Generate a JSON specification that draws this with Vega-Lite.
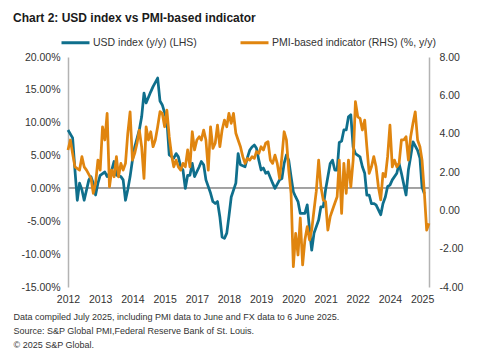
{
  "$schema": "https://vega.github.io/schema/vega-lite/v6.json",
  "width": 361,
  "height": 230,
  "autosize": {"type": "none"},
  "padding": {"left": 68, "top": 57, "right": 67, "bottom": 65},
  "background": "white",
  "config": {"view": {"stroke": null}, "font": "Liberation Sans", "axis": {"labelOverlap": false, "labelFlush": false}},
  "title": {"text": "Chart 2: USD index vs PMI-based indicator", "anchor": "start", "frame": "group", "dx": -55, "dy": 2, "fontSize": 12, "font": "Liberation Sans", "fontWeight": "bold", "color": "#1a1a1a"},
  "data": {"values": [
    {"d":"2012-05","usd":8.9,"pmi":3.15},{"d":"2012-06","pmi":3.67},{"d":"2012-07","usd":7.7,"pmi":2.97},{"d":"2012-08","usd":2.8,"pmi":2.27},
    {"d":"2012-09","usd":-1.8},{"d":"2012-10","usd":0.8,"pmi":2.1},{"d":"2012-11","usd":-0.2,"pmi":2.8},{"d":"2012-12","usd":-1.8,"pmi":2.27},
    {"d":"2013-01","pmi":2.1},{"d":"2013-02","usd":1.3},{"d":"2013-03","usd":1.8,"pmi":1.67},{"d":"2013-04","usd":0.8,"pmi":0.89},
    {"d":"2013-05","usd":-1.0,"pmi":1.41},{"d":"2013-06","usd":0.8,"pmi":2.62},{"d":"2013-07","usd":2.0,"pmi":2.1},{"d":"2013-08","pmi":4.36},
    {"d":"2013-09","usd":2.5,"pmi":3.67},{"d":"2013-10","usd":1.8,"pmi":5.06},{"d":"2013-11","pmi":1.23},{"d":"2013-12","usd":2.8,"pmi":2.1},
    {"d":"2014-01","usd":4.1,"pmi":1.75},{"d":"2014-02","usd":2.0,"pmi":2.8},{"d":"2014-03","pmi":1.75},{"d":"2014-04","usd":1.8,"pmi":2.45},
    {"d":"2014-05","usd":1.3,"pmi":2.1},{"d":"2014-06","usd":-1.8,"pmi":2.45},{"d":"2014-07","usd":-0.2,"pmi":4.0},{"d":"2014-08","usd":1.8,"pmi":5.14},
    {"d":"2014-09","usd":4.3,"pmi":2.62},{"d":"2014-10","usd":6.3,"pmi":2.97},{"d":"2014-11","pmi":3.5},{"d":"2014-12","usd":8.9,"pmi":4.19},
    {"d":"2015-01","usd":10.9,"pmi":3.32},{"d":"2015-02","usd":14.5,"pmi":1.67},{"d":"2015-03","usd":13.0,"pmi":4.36},{"d":"2015-04","pmi":3.67},
    {"d":"2015-05","usd":14.7,"pmi":4.1},{"d":"2015-06","usd":15.5,"pmi":3.32},{"d":"2015-07","pmi":3.67},{"d":"2015-08","usd":16.8,"pmi":4.36},
    {"d":"2015-09","usd":13.3,"pmi":5.15},{"d":"2015-10","usd":12.7,"pmi":5.06},{"d":"2015-11","pmi":4.36},{"d":"2015-12","usd":10.4,"pmi":5.23},
    {"d":"2016-01","usd":5.1,"pmi":3.84},{"d":"2016-02","pmi":2.88},{"d":"2016-03","usd":4.6,"pmi":2.27},{"d":"2016-04","usd":5.3,"pmi":2.62},
    {"d":"2016-05","usd":4.8,"pmi":2.27},{"d":"2016-06","usd":3.3,"pmi":2.1},{"d":"2016-07","usd":2.8,"pmi":2.45},{"d":"2016-08","usd":0.0,"pmi":2.27},
    {"d":"2016-09","usd":2.0,"pmi":3.15},{"d":"2016-10","usd":2.0,"pmi":2.27},{"d":"2016-11","usd":3.8,"pmi":4.1},{"d":"2016-12","usd":1.8,"pmi":3.15},
    {"d":"2017-01","pmi":3.67},{"d":"2017-02","usd":3.3,"pmi":3.84},{"d":"2017-03","usd":4.1,"pmi":3.67},{"d":"2017-04","usd":3.6,"pmi":4.19},
    {"d":"2017-05","usd":1.3,"pmi":3.67},{"d":"2017-06","pmi":2.1},{"d":"2017-07","usd":-0.7,"pmi":4.36},{"d":"2017-08","usd":-2.0,"pmi":3.23},
    {"d":"2017-09","usd":-2.3,"pmi":3.5},{"d":"2017-10","usd":-2.0,"pmi":4.45},{"d":"2017-11","usd":-4.3,"pmi":3.32},{"d":"2017-12","usd":-7.4,"pmi":4.19},
    {"d":"2018-01","usd":-7.6,"pmi":4.71},{"d":"2018-02","usd":-6.8,"pmi":4.36},{"d":"2018-03","usd":-4.3,"pmi":5.06},{"d":"2018-04","usd":-1.3,"pmi":4.54},
    {"d":"2018-05","pmi":5.06},{"d":"2018-06","usd":0.8,"pmi":4.02},{"d":"2018-07","usd":5.3,"pmi":3.67},{"d":"2018-08","usd":3.6,"pmi":3.32},
    {"d":"2018-09","pmi":2.8},{"d":"2018-10","usd":3.3,"pmi":2.45},{"d":"2018-11","usd":4.7,"pmi":2.71},{"d":"2018-12","usd":5.8,"pmi":2.62},
    {"d":"2019-01","usd":6.3,"pmi":2.8},{"d":"2019-02","usd":6.6,"pmi":2.71},{"d":"2019-03","usd":6.1,"pmi":3.06},{"d":"2019-04","usd":4.3,"pmi":2.97},
    {"d":"2019-05","usd":2.8,"pmi":3.32},{"d":"2019-06","usd":3.1,"pmi":3.15},{"d":"2019-07","usd":2.3,"pmi":3.5},{"d":"2019-08","usd":2.5,"pmi":3.58},
    {"d":"2019-09","pmi":2.62},{"d":"2019-10","usd":0.8,"pmi":2.45},{"d":"2019-11","usd":0.0,"pmi":2.88},{"d":"2019-12","pmi":2.45},
    {"d":"2020-01","usd":1.3,"pmi":1.67},{"d":"2020-02","usd":1.5,"pmi":2.8},{"d":"2020-03","usd":3.8,"pmi":4.1},{"d":"2020-04","usd":5.1,"pmi":3.67},
    {"d":"2020-05","usd":4.3,"pmi":2.1},{"d":"2020-06","usd":1.8,"pmi":0.89},{"d":"2020-07","usd":-0.5,"pmi":-2.94},{"d":"2020-08","usd":-1.3,"pmi":-1.2},
    {"d":"2020-09","usd":-2.0,"pmi":-2.33},{"d":"2020-10","usd":-3.8,"pmi":-0.4},{"d":"2020-11","pmi":-2.85},{"d":"2020-12","usd":-3.8,"pmi":-1.55},
    {"d":"2021-01","usd":-2.5,"pmi":-0.85},{"d":"2021-02","usd":-6.3,"pmi":-1.55},{"d":"2021-03","usd":-9.4,"pmi":-1.03},{"d":"2021-04","usd":-6.8,"pmi":0.02},
    {"d":"2021-05","pmi":1.0},{"d":"2021-06","usd":-4.8,"pmi":2.62},{"d":"2021-07","usd":-2.8,"pmi":1.23},{"d":"2021-08","usd":-2.8,"pmi":0.54},
    {"d":"2021-09","usd":-0.2,"pmi":0.45},{"d":"2021-10","pmi":-1.03},{"d":"2021-11","usd":3.8,"pmi":-0.33},{"d":"2021-12","usd":4.3,"pmi":0.02},
    {"d":"2022-01","usd":2.8,"pmi":0.37},{"d":"2022-02","usd":2.8,"pmi":0.71},{"d":"2022-03","usd":7.0,"pmi":2.62},{"d":"2022-04","usd":7.2,"pmi":-0.16},
    {"d":"2022-05","usd":8.9,"pmi":2.45},{"d":"2022-06","usd":8.9,"pmi":0.89},{"d":"2022-07","usd":10.9,"pmi":2.62},{"d":"2022-08","usd":11.2,"pmi":1.23},
    {"d":"2022-09","usd":6.3,"pmi":2.62},{"d":"2022-10","usd":5.3,"pmi":5.67},{"d":"2022-11","pmi":4.88},{"d":"2022-12","usd":4.8,"pmi":4.8},
    {"d":"2023-01","usd":3.3,"pmi":4.19},{"d":"2023-02","usd":2.3,"pmi":4.71},{"d":"2023-03","usd":-1.0,"pmi":3.32},{"d":"2023-04","usd":-1.0,"pmi":1.93},
    {"d":"2023-05","usd":-2.3,"pmi":2.27},{"d":"2023-06","usd":-2.3,"pmi":2.8},{"d":"2023-07","usd":-2.5,"pmi":2.27},{"d":"2023-08","pmi":1.23},
    {"d":"2023-09","usd":-4.0,"pmi":0.54},{"d":"2023-10","usd":-2.3,"pmi":1.93},{"d":"2023-11","usd":-1.3,"pmi":1.75},{"d":"2023-12","usd":0.3,"pmi":2.8},
    {"d":"2024-01","usd":0.5,"pmi":4.45},{"d":"2024-02","usd":1.3,"pmi":2.27},{"d":"2024-03","pmi":2.62},{"d":"2024-04","usd":2.3,"pmi":2.27},
    {"d":"2024-05","usd":3.8,"pmi":2.45},{"d":"2024-06","usd":2.3,"pmi":3.67},{"d":"2024-07","pmi":3.67},{"d":"2024-08","usd":-1.0,"pmi":3.84},
    {"d":"2024-09","usd":2.8,"pmi":2.62},{"d":"2024-10","usd":4.8,"pmi":3.84},{"d":"2024-11","usd":7.1,"pmi":4.54},{"d":"2024-12","pmi":5.14},
    {"d":"2025-01","usd":5.8,"pmi":3.67},{"d":"2025-02","usd":4.6,"pmi":3.32},{"d":"2025-03","usd":0.2,"pmi":2.62},{"d":"2025-04","usd":-0.8,"pmi":0.89},
    {"d":"2025-05","pmi":-1.03},{"d":"2025-06","pmi":-0.68}
  ]},
  "encoding": {
    "x": {
      "field": "d", "type": "temporal",
      "scale": {"type": "utc", "domain": [{"year": 2012, "month": 5, "date": 1, "utc": true}, {"year": 2025, "month": 6, "date": 1, "utc": true}]},
      "axis": {
        "values": [
          {"year": 2012, "month": 5, "date": 1, "utc": true}, {"year": 2013, "month": 7, "date": 1, "utc": true},
          {"year": 2014, "month": 9, "date": 1, "utc": true}, {"year": 2015, "month": 11, "date": 1, "utc": true},
          {"year": 2017, "month": 1, "date": 1, "utc": true}, {"year": 2018, "month": 3, "date": 1, "utc": true},
          {"year": 2019, "month": 5, "date": 1, "utc": true}, {"year": 2020, "month": 7, "date": 1, "utc": true},
          {"year": 2021, "month": 9, "date": 1, "utc": true}, {"year": 2022, "month": 11, "date": 1, "utc": true},
          {"year": 2024, "month": 1, "date": 1, "utc": true}, {"year": 2025, "month": 3, "date": 1, "utc": true}
        ],
        "format": "%Y", "domain": false, "ticks": false, "tickSize": 0, "grid": false,
        "labelPadding": 7, "labelFontSize": 10.5, "labelFont": "Liberation Sans", "labelColor": "#333333",
        "labelFlush": false, "labelOverlap": false,
        "title": ["Data compiled July 2025, including PMI data to June and FX data to 6 June 2025.", "Source: S&P Global PMI,Federal Reserve Bank of St. Louis.", "© 2025 S&P Global."],
        "titleAnchor": "start", "titleAlign": "left", "titleX": -55, "titleY": 32, "titleBaseline": "alphabetic",
        "titleFontSize": 9, "titleFontWeight": "normal", "titleFont": "Liberation Sans", "titleColor": "#333333", "titleLineHeight": 14
      }
    }
  },
  "layer": [
    {
      "encoding": {
        "y": {
          "type": "quantitative",
          "scale": {"domain": [-15, 20], "nice": false, "zero": false},
          "axis": {
            "orient": "left", "values": [-15, -10, -5, 0, 5, 10, 15, 20],
            "labelExpr": "(datum.value < 0 ? '-' : '') + format(abs(datum.value), '.2f') + '%'",
            "title": null, "grid": false, "ticks": false, "tickSize": 0, "labelOverlap": false, "labelFlush": false,
            "domain": true, "domainColor": "#b3b3b3", "domainWidth": 1.5,
            "labelPadding": 8, "labelFontSize": 10.5, "labelFont": "Liberation Sans", "labelColor": "#333333"
          }
        }
      },
      "layer": [
        {
          "mark": {"type": "rule", "color": "#a6a6a6", "strokeWidth": 1},
          "encoding": {"y": {"datum": 0, "type": "quantitative"}, "x": null}
        },
        {
          "transform": [{"filter": "isValid(datum.usd)"}],
          "mark": {"type": "line", "strokeWidth": 2.75, "strokeJoin": "round"},
          "encoding": {
            "y": {"field": "usd", "type": "quantitative"},
            "color": {
              "datum": "USD index (y/y) (LHS)",
              "scale": {"domain": ["USD index (y/y) (LHS)", "PMI-based indicator (RHS) (%, y/y)"], "range": ["#0f6f8c", "#e0850f"]},
              "legend": {
                "orient": "none", "legendX": -8, "legendY": -30, "direction": "horizontal", "title": null,
                "symbolType": "stroke", "symbolStrokeWidth": 3, "symbolSize": 784,
                "labelFontSize": 10.5, "labelFont": "Liberation Sans", "labelColor": "#333333", "labelLimit": 400,
                "labelOffset": 2, "columnPadding": 37, "padding": 0
              }
            }
          }
        }
      ]
    },
    {
      "transform": [{"filter": "isValid(datum.pmi)"}],
      "mark": {"type": "line", "strokeWidth": 2.75, "strokeJoin": "round"},
      "encoding": {
        "y": {
          "field": "pmi", "type": "quantitative",
          "scale": {"domain": [-4, 8], "nice": false, "zero": false},
          "axis": {
            "orient": "right", "values": [-4, -2, 0, 2, 4, 6, 8],
            "labelExpr": "(datum.value < 0 ? '-' : '') + format(abs(datum.value), '.2f')",
            "title": null, "grid": false, "ticks": false, "tickSize": 0, "labelOverlap": false, "labelFlush": false,
            "domain": true, "domainColor": "#b3b3b3", "domainWidth": 1.5,
            "labelPadding": 10, "labelFontSize": 10.5, "labelFont": "Liberation Sans", "labelColor": "#333333"
          }
        },
        "color": {"datum": "PMI-based indicator (RHS) (%, y/y)"}
      }
    }
  ],
  "resolve": {"scale": {"y": "independent"}}
}
